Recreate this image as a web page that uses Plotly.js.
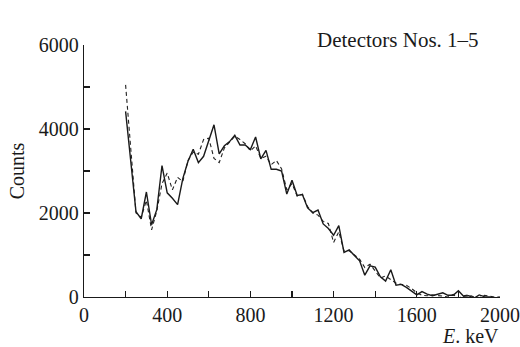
<!DOCTYPE html>
<html><head><meta charset="utf-8">
<script src="https://cdn.plot.ly/plotly-3.0.1.min.js"></script>
<style>html,body{margin:0;padding:0;background:#fff}#chart{width:520px;height:347px}</style>
</head><body><div id="chart"></div>
<script>
const energy = [200,250,275,300,325,350,375,400,425,450,475,500,525,550,575,600,625,650,675,700,725,750,775,800,825,850,875,900,925,950,975,1000,1025,1050,1075,1100,1125,1150,1175,1200,1225,1250,1275,1300,1325,1350,1375,1400,1425,1450,1475,1500,1525,1550,1575,1600,1625,1650,1675,1700,1725,1750,1775,1800,1825,1850,1875,1900,1925,1950,1975,2000];
const countsSolid = [4420,2030,1860,2500,1720,2080,3130,2480,2350,2200,2820,3230,3520,3200,3350,3720,4100,3410,3600,3700,3850,3620,3620,3510,3810,3290,3490,3040,3040,3000,2450,2780,2420,2440,2120,2010,2070,1740,1630,1470,1700,1060,1120,990,860,520,740,710,480,380,650,280,300,230,150,50,130,70,30,60,100,40,40,150,20,30,-30,50,10,0,-20,-10];
const countsDashed = [5050,2000,1900,2300,1600,2050,2700,2950,2550,2850,2750,3250,3450,3400,3750,3780,3300,3200,3550,3700,3830,3750,3650,3480,3600,3300,3350,3150,3250,3050,2550,2700,2400,2450,2150,2000,1950,1800,1750,1300,1550,1100,1100,1000,900,700,780,620,450,500,420,330,300,280,200,100,40,30,50,40,20,0,60,-30,30,50,0,-20,40,20,0,0];
const xTicks = [0,400,800,1200,1600,2000];
const yTicks = [0,2000,4000,6000];

const serif = "Liberation Serif, Times New Roman, serif";
const traces = [
  {x: energy, y: countsDashed, mode:'lines', line:{color:'#222', width:1.1, dash:'4px,3px'}, hoverinfo:'skip'},
  {x: energy, y: countsSolid, mode:'lines', line:{color:'#1a1a1a', width:1.4}, hoverinfo:'skip'}
];
const layout = {
  width:520, height:347,
  margin:{l:84, r:20, t:45, b:50},
  paper_bgcolor:'#fff', plot_bgcolor:'#fff',
  showlegend:false,
  font:{family:serif, size:20, color:'#1a1a1a'},
  xaxis:{range:[0,2000], tickvals:xTicks, ticktext:xTicks.map(String), ticks:'inside', ticklen:6, tickcolor:'#1a1a1a', tickwidth:1.2,
    showline:true, linecolor:'#1a1a1a', linewidth:1.3, showgrid:false, zeroline:false, fixedrange:true,
    ticklabeloverflow:'allow',
    minor:{tickvals:[200,600,1000,1400,1800], ticks:'inside', ticklen:6, tickcolor:'#1a1a1a', showgrid:false},
    tickfont:{family:serif, size:20}},
  yaxis:{range:[0,6000], tickvals:yTicks, ticktext:yTicks.map(String), ticks:'inside', ticklen:6, tickcolor:'#1a1a1a', tickwidth:1.2,
    showline:true, linecolor:'#1a1a1a', linewidth:1.3, showgrid:false, zeroline:false, fixedrange:true,
    ticklabeloverflow:'allow',
    minor:{tickvals:[1000,3000,5000], ticks:'inside', ticklen:6, tickcolor:'#1a1a1a', showgrid:false},
    tickfont:{family:serif, size:20},
    title:{text:'Counts', font:{family:serif, size:20}, standoff:8}},
  annotations:[
    {xref:'paper', yref:'paper', x:0.955, y:1.02, xanchor:'right', yanchor:'middle', showarrow:false,
     text:'Detectors Nos. 1–5', font:{family:serif, size:21}},
    {xref:'paper', yref:'paper', x:1.0, y:-0.107, xanchor:'right', yanchor:'top', showarrow:false,
     borderpad:0, text:'<i>E</i>. keV', font:{family:serif, size:20}}
  ]
};
Plotly.newPlot('chart', traces, layout, {displayModeBar:false, staticPlot:true});
</script></body></html>
